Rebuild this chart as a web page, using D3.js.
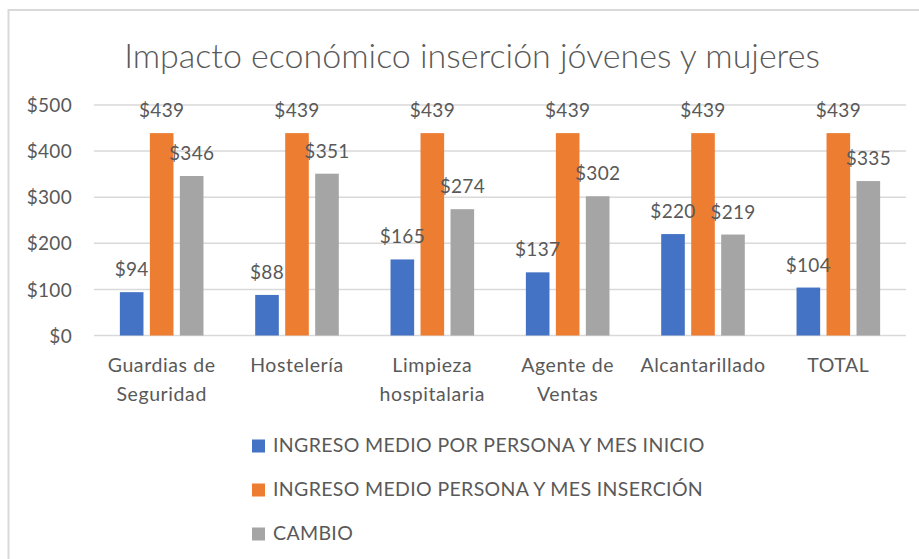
<!DOCTYPE html>
<html>
<head>
<meta charset="utf-8">
<script src="https://cdn.jsdelivr.net/npm/d3@7"></script>
<style>
  html, body { margin: 0; padding: 0; background: #fff; }
  svg { display: block; }
</style>
</head>
<body>
<svg id="chart" width="919" height="559"></svg>
<script>
const title = "Impacto económico inserción jóvenes y mujeres";
const categories = [["Guardias de", "Seguridad"], ["Hostelería"], ["Limpieza", "hospitalaria"], ["Agente de", "Ventas"], ["Alcantarillado"], ["TOTAL"]];
const seriesNames = ["INGRESO MEDIO POR PERSONA Y MES INICIO", "INGRESO MEDIO PERSONA Y MES INSERCIÓN", "CAMBIO"];
const inicio = [94, 88, 165, 137, 220, 104];
const insercion = [439, 439, 439, 439, 439, 439];
const cambio = [346, 351, 274, 302, 219, 335];
const yTicks = [0, 100, 200, 300, 400, 500];
const colors = ["#4472C4", "#ED7D31", "#A5A5A5"];

const seriesValues = [inicio, insercion, cambio];
const font = "Lato, 'Open Sans', sans-serif";
const textColor = "#595959";

const svg = d3.select("#chart");

// chart frame
svg.append("rect")
  .attr("x", 8.5).attr("y", 10).attr("width", 1000).attr("height", 600)
  .attr("fill", "#fff").attr("stroke", "#D9D9D9").attr("stroke-width", 2);

const plotLeft = 94, plotRight = 906, plotTop = 105, plotBottom = 335.5;

const x0 = d3.scaleBand()
  .domain(d3.range(categories.length))
  .range([plotLeft, plotRight])
  .paddingInner(0).paddingOuter(0);

const step = x0.bandwidth();
const w = step / (3 + 2 * 0.27 + 2.19);
const x1 = d3.scaleBand()
  .domain(d3.range(seriesNames.length))
  .range([1.095 * w, 1.095 * w + 3.54 * w])
  .paddingInner(0.27 / 1.27).paddingOuter(0);

const y = d3.scaleLinear().domain([0, 500]).range([plotBottom, plotTop]);

// gridlines
svg.append("g")
  .selectAll("line")
  .data(yTicks)
  .join("line")
  .attr("x1", plotLeft).attr("x2", plotRight)
  .attr("y1", d => y(d)).attr("y2", d => y(d))
  .attr("stroke", "#D9D9D9").attr("stroke-width", 1.5);

// y axis labels
const yAxis = d3.axisLeft(y).tickValues(yTicks).tickFormat(d => "$" + d).tickSize(0).tickPadding(0);
const gy = svg.append("g").attr("transform", `translate(${72},0)`).call(yAxis);
gy.select(".domain").remove();
gy.selectAll("text")
  .attr("font-family", font).attr("font-size", 19).attr("fill", textColor)
  .attr("letter-spacing", 0.3)
  .attr("dy", "0.35em");

// title
svg.append("text")
  .attr("x", 472).attr("y", 68)
  .attr("text-anchor", "middle")
  .attr("font-family", font).attr("font-weight", 300)
  .attr("font-size", 34).attr("fill", textColor)
  .text(title);

// bars
const groups = svg.append("g")
  .selectAll("g")
  .data(categories.map((c, i) => i))
  .join("g")
  .attr("transform", i => `translate(${x0(i)},0)`);

groups.selectAll("rect")
  .data(i => seriesValues.map((s, k) => ({ k, v: s[i] })))
  .join("rect")
  .attr("x", d => x1(d.k))
  .attr("width", x1.bandwidth())
  .attr("y", d => y(d.v))
  .attr("height", d => y(0) - y(d.v))
  .attr("fill", d => colors[d.k]);

groups.selectAll("text.lbl")
  .data(i => seriesValues.map((s, k) => ({ k, v: s[i] })))
  .join("text")
  .attr("class", "lbl")
  .attr("x", d => x1(d.k) + x1.bandwidth() / 2)
  .attr("y", d => y(d.v) - 16)
  .attr("text-anchor", "middle")
  .attr("font-family", font).attr("font-size", 19).attr("fill", textColor)
  .attr("letter-spacing", 0.3)
  .text(d => "$" + d.v);

// category labels
const xl = svg.append("g")
  .selectAll("text")
  .data(categories.map((c, i) => ({ c, i })))
  .join("text")
  .attr("x", d => x0(d.i) + step / 2)
  .attr("y", 372)
  .attr("text-anchor", "middle")
  .attr("font-family", font).attr("font-size", 19.5).attr("fill", textColor)
  .attr("letter-spacing", 0.6);
xl.selectAll("tspan")
  .data(d => d.c.map((line, j) => ({ line, j, x: x0(d.i) + step / 2 })))
  .join("tspan")
  .attr("x", d => d.x)
  .attr("dy", d => d.j === 0 ? 0 : 28.5)
  .text(d => d.line);

// legend
const legend = svg.append("g")
  .selectAll("g")
  .data(seriesNames.map((n, k) => ({ n, k })))
  .join("g")
  .attr("transform", d => `translate(252,${452 + d.k * 44})`);
legend.append("rect")
  .attr("x", 0).attr("y", -12.5).attr("width", 13).attr("height", 13)
  .attr("fill", d => colors[d.k]);
legend.append("text")
  .attr("x", 21).attr("y", 0)
  .attr("font-family", font).attr("font-size", 19.5).attr("fill", textColor)
  .attr("letter-spacing", 0.35)
  .text(d => d.n);
</script>
</body>
</html>
